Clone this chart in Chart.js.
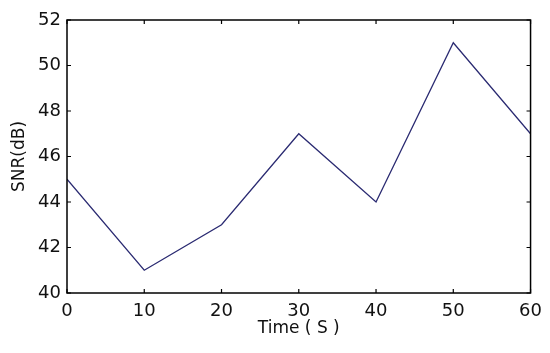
<!DOCTYPE html>
<html><head><meta charset="utf-8">
<script src="https://cdn.jsdelivr.net/npm/chart.js@4/dist/chart.umd.min.js"></script>
<style>html,body{margin:0;padding:0;background:#fff;}#wrap{width:550px;height:353px;}</style>
</head><body><div id="wrap"><canvas id="c" width="550" height="353"></canvas></div>
<script>
const timeSeconds = [0, 10, 20, 30, 40, 50, 60];
const snrDb = [45, 41, 43, 47, 44, 51, 47];
const xTicks = [0, 10, 20, 30, 40, 50, 60];
const yTicks = [40, 42, 44, 46, 48, 50, 52];

const boxTicks = {
  id: 'boxTicks',
  afterDatasetsDraw(chart) {
    const {ctx, chartArea: a, scales: {x, y}} = chart;
    ctx.save();
    ctx.strokeStyle = '#000';
    ctx.lineWidth = 1.5;
    ctx.strokeRect(a.left, a.top, a.right - a.left, a.bottom - a.top);
    ctx.lineWidth = 1.2;
    const L = 4;
    ctx.beginPath();
    xTicks.forEach(v => {
      const px = x.getPixelForValue(v);
      ctx.moveTo(px, a.bottom); ctx.lineTo(px, a.bottom - L);
      ctx.moveTo(px, a.top); ctx.lineTo(px, a.top + L);
    });
    yTicks.forEach(v => {
      const py = y.getPixelForValue(v);
      ctx.moveTo(a.left, py); ctx.lineTo(a.left + L, py);
      ctx.moveTo(a.right, py); ctx.lineTo(a.right - L, py);
    });
    ctx.stroke();
    ctx.restore();
  }
};

const tickFont = {family: '"DejaVu Sans", sans-serif', size: 18};
const titleFont = {family: '"DejaVu Sans", sans-serif', size: 17};
new Chart(document.getElementById('c'), {
  type: 'line',
  data: {datasets: [{
    data: timeSeconds.map((t, i) => ({x: t, y: snrDb[i]})),
    borderColor: '#2b2b72', borderWidth: 1.3, pointRadius: 0, tension: 0, fill: false
  }]},
  options: {
    responsive: false, animation: false, devicePixelRatio: 1,
    layout: {padding: {left: 0, top: 20, right: 18, bottom: 0}},
    plugins: {legend: {display: false}, tooltip: {enabled: false}},
    scales: {
      x: {type: 'linear', min: 0, max: 60,
        afterBuildTicks(s) { s.ticks = xTicks.map(v => ({value: v})); },
        afterFit(s) { s.height = 60; },
        grid: {display: false, drawTicks: false}, border: {display: false},
        ticks: {color: '#111', font: tickFont, padding: 8, maxRotation: 0, autoSkip: false},
        title: {display: true, text: 'Time ( S )', color: '#111', font: titleFont, padding: {top: 0, bottom: 14}}
      },
      y: {min: 40, max: 52,
        afterBuildTicks(s) { s.ticks = yTicks.map(v => ({value: v})); },
        afterFit(s) { s.width = 67; },
        grid: {display: false, drawTicks: false}, border: {display: false},
        ticks: {color: '#111', font: tickFont, padding: 6, autoSkip: false},
        title: {display: true, text: 'SNR(dB)', color: '#111', font: titleFont, padding: {top: 9, bottom: 0}}
      }
    }
  },
  plugins: [boxTicks]
});
</script></body></html>
